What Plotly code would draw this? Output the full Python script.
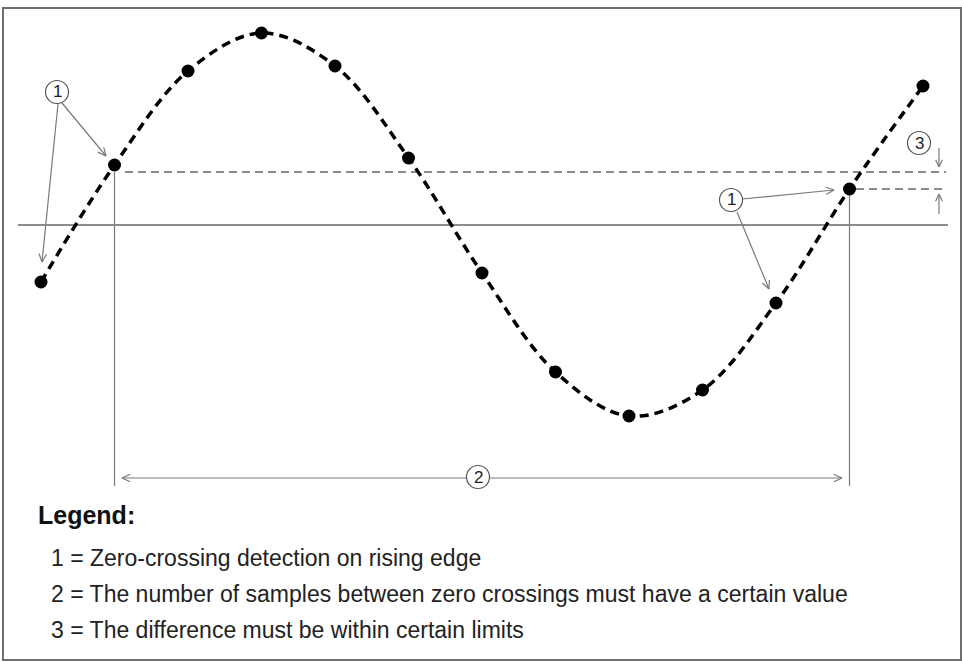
import plotly.graph_objects as go
import math

# ---- data (sample index, amplitude) ----
sample_index = list(range(13))
sample_value = [-57, 60, 154, 192, 159, 67, -48, -147, -191, -165, -78, 36, 139]
upper_level = 53      # reference level taken at first zero crossing
lower_level = 36      # sample value at second zero crossing
crossing_samples = [1, 11]

legend_title = "Legend:"
legend_lines = [
    "1 = Zero-crossing detection on rising edge",
    "2 = The number of samples between zero crossings must have a certain value",
    "3 = The difference must be within certain limits",
]

W, H = 962, 662
X0PX, DXPX = 41, 73.5   # pixel position of sample 0 and spacing
ZEROPX = 225

def px(x):
    return x / W

def py(y):
    return 1 - y / H

fig = go.Figure()

fig.add_trace(go.Scatter(
    x=sample_index, y=sample_value, mode="lines",
    line=dict(color="black", width=3.5, dash="9px,6px", shape="spline", smoothing=1.0),
    hoverinfo="skip", showlegend=False))
fig.add_trace(go.Scatter(
    x=sample_index, y=sample_value, mode="markers",
    marker=dict(color="black", size=13), showlegend=False))

shapes = []
GRAY = "#7a7a7a"
# frame
shapes.append(dict(type="rect", xref="paper", yref="paper", x0=px(3), x1=px(961),
                   y0=py(8), y1=py(660), line=dict(color="#6e6e6e", width=2), layer="below"))
# zero line
shapes.append(dict(type="line", xref="paper", yref="y", x0=px(18), x1=px(948), y0=0, y1=0,
                   line=dict(color="#666666", width=1.6), layer="below"))
# dashed reference lines
shapes.append(dict(type="line", xref="paper", yref="y", x0=px(125), x1=px(946),
                   y0=upper_level, y1=upper_level,
                   line=dict(color="#666666", width=1.6, dash="8px,5px"), layer="below"))
shapes.append(dict(type="line", xref="paper", yref="y", x0=px(856), x1=px(946),
                   y0=lower_level, y1=lower_level,
                   line=dict(color="#666666", width=1.6, dash="8px,5px"), layer="below"))
# vertical lines at zero crossings
for i, lvl in zip(crossing_samples, [upper_level, lower_level]):
    shapes.append(dict(type="line", xref="x", yref="y", x0=i, x1=i,
                       y0=lvl, y1=ZEROPX - 486,
                       line=dict(color=GRAY, width=1.2), layer="below"))

def arrow(x0, y0, x1, y1, head=9, ang=25, color=GRAY, width=1.2):
    shapes.append(dict(type="line", xref="paper", yref="paper",
                       x0=px(x0), y0=py(y0), x1=px(x1), y1=py(y1),
                       line=dict(color=color, width=width)))
    a = math.atan2(y0 - y1, x0 - x1)
    for s in (-1, 1):
        b = a + s * math.radians(ang)
        hx, hy = x1 + head * math.cos(b), y1 + head * math.sin(b)
        shapes.append(dict(type="line", xref="paper", yref="paper",
                           x0=px(x1), y0=py(y1), x1=px(hx), y1=py(hy),
                           line=dict(color=color, width=width)))

arrow(58, 104, 42, 262)
arrow(62, 103, 106, 156)
arrow(742, 199, 834, 190)
arrow(737, 212, 769, 289)
arrow(939, 148, 939, 167, head=8)
arrow(939, 214, 939, 194, head=8)
arrow(467, 478, 122, 478)
arrow(489, 478, 842, 478)

annotations = []

def circled(cx, cy, label, r=11.5):
    shapes.append(dict(type="circle", xref="paper", yref="paper",
                       x0=px(cx - r), x1=px(cx + r), y0=py(cy - r), y1=py(cy + r),
                       line=dict(color="#555555", width=1.2), fillcolor="white"))
    annotations.append(dict(x=px(cx), y=py(cy), xref="paper", yref="paper", text=label,
                            showarrow=False, font=dict(family="Liberation Sans, Arial", size=17, color="#222"),
                            xanchor="center", yanchor="middle"))

circled(57, 92, "1")
circled(731, 200, "1")
circled(919, 143, "3")
circled(478, 477, "2")

annotations.append(dict(x=px(36), y=py(515), xref="paper", yref="paper", text="<b>" + legend_title + "</b>",
                        showarrow=False, xanchor="left", yanchor="middle",
                        font=dict(family="Liberation Sans, Arial", size=25, color="#111")))
for k, t in enumerate(legend_lines):
    annotations.append(dict(x=px(49), y=py([558, 594, 630][k]), xref="paper", yref="paper", text=t,
                            showarrow=False, xanchor="left", yanchor="middle",
                            font=dict(family="Liberation Sans, Arial", size=23, color="#222")))

fig.update_layout(
    width=W, height=H, autosize=False,
    margin=dict(l=0, r=0, t=0, b=0),
    paper_bgcolor="white", plot_bgcolor="white",
    xaxis=dict(visible=False, range=[-X0PX / DXPX, (W - X0PX) / DXPX], fixedrange=True),
    yaxis=dict(visible=False, range=[ZEROPX - H, ZEROPX], fixedrange=True),
    shapes=shapes, annotations=annotations, showlegend=False,
)

fig.write_html("out.html")
